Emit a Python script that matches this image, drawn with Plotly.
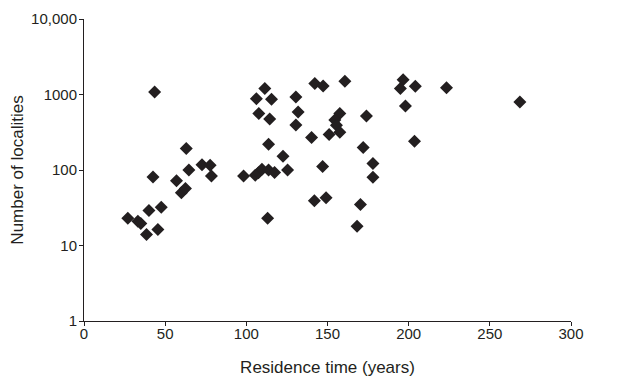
import plotly.graph_objects as go

# Residence time (years)
residence_time = [
    27.0, 33.2, 35.0, 38.5, 40.0, 42.5, 43.5, 45.5, 47.6, 57.0,
    60.0, 62.5, 63.0, 64.6, 72.7, 77.7, 78.5,
    98.3, 105.5, 107.5, 109.6, 113.7, 117.4, 113.7, 122.6, 125.4, 113.1,
    111.4, 106.2, 115.5, 107.7, 114.4, 130.5, 131.9, 130.5,
    142.2, 147.3, 160.7, 140.2, 147.0, 141.9, 149.1,
    157.6, 154.5, 155.5, 157.6, 151.0,
    174.0, 172.0, 178.0, 178.0, 170.3, 168.2,
    196.6, 194.9, 204.1, 198.0, 203.6, 223.3, 268.5,
]
# Number of localities
localities = [
    23, 21, 19.5, 14, 29, 81, 1080, 16.3, 32, 72,
    50, 57, 192, 100, 117, 116, 83,
    83, 85, 92, 102, 100, 93, 219, 152, 100, 23,
    1200, 880, 865, 560, 475, 925, 587, 395,
    1394, 1295, 1496, 269, 111, 39, 43,
    559, 460, 390, 316, 295,
    520, 198, 122, 80, 35, 18,
    1570, 1200, 1283, 705, 240, 1232, 796,
]

y_tickvals = [1, 10, 100, 1000, 10000]
y_ticktext = ["1", "10", "100", "1000", "10,000"]
x_tickvals = [0, 50, 100, 150, 200, 250, 300]

ink = "#231f20"
font_family = "Liberation Sans, Arial, sans-serif"

fig = go.Figure(
    go.Scatter(
        x=residence_time,
        y=localities,
        mode="markers",
        marker=dict(symbol="diamond", size=10, color=ink, line=dict(width=0)),
        hoverinfo="x+y",
    )
)

# page body adds an 8px offset; figure is sized so the plot area lands where the reference has it
fig.update_layout(
    width=609,
    height=373,
    margin=dict(l=76, r=46, t=11, b=60, autoexpand=False),
    paper_bgcolor="white",
    plot_bgcolor="white",
    showlegend=False,
    font=dict(family=font_family, size=15, color=ink),
)

fig.update_xaxes(
    range=[0, 300],
    tickvals=x_tickvals,
    showline=True,
    linecolor=ink,
    linewidth=1,
    ticks="outside",
    ticklen=4,
    tickcolor=ink,
    showgrid=False,
    zeroline=False,
    automargin=False,
    ticklabelstandoff=-5,
    tickfont=dict(size=15),
    title=dict(text="Residence time (years)", font=dict(size=17), standoff=20),
)

fig.update_yaxes(
    type="log",
    range=[0, 4],
    tickvals=y_tickvals,
    ticktext=y_ticktext,
    showline=True,
    linecolor=ink,
    linewidth=1,
    ticks="outside",
    ticklen=4,
    tickcolor=ink,
    showgrid=False,
    zeroline=False,
    automargin=False,
    ticklabelstandoff=-1,
    tickfont=dict(size=15),
    title=dict(text="Number of localities", font=dict(size=17), standoff=13),
)

fig.write_html("out.html")
